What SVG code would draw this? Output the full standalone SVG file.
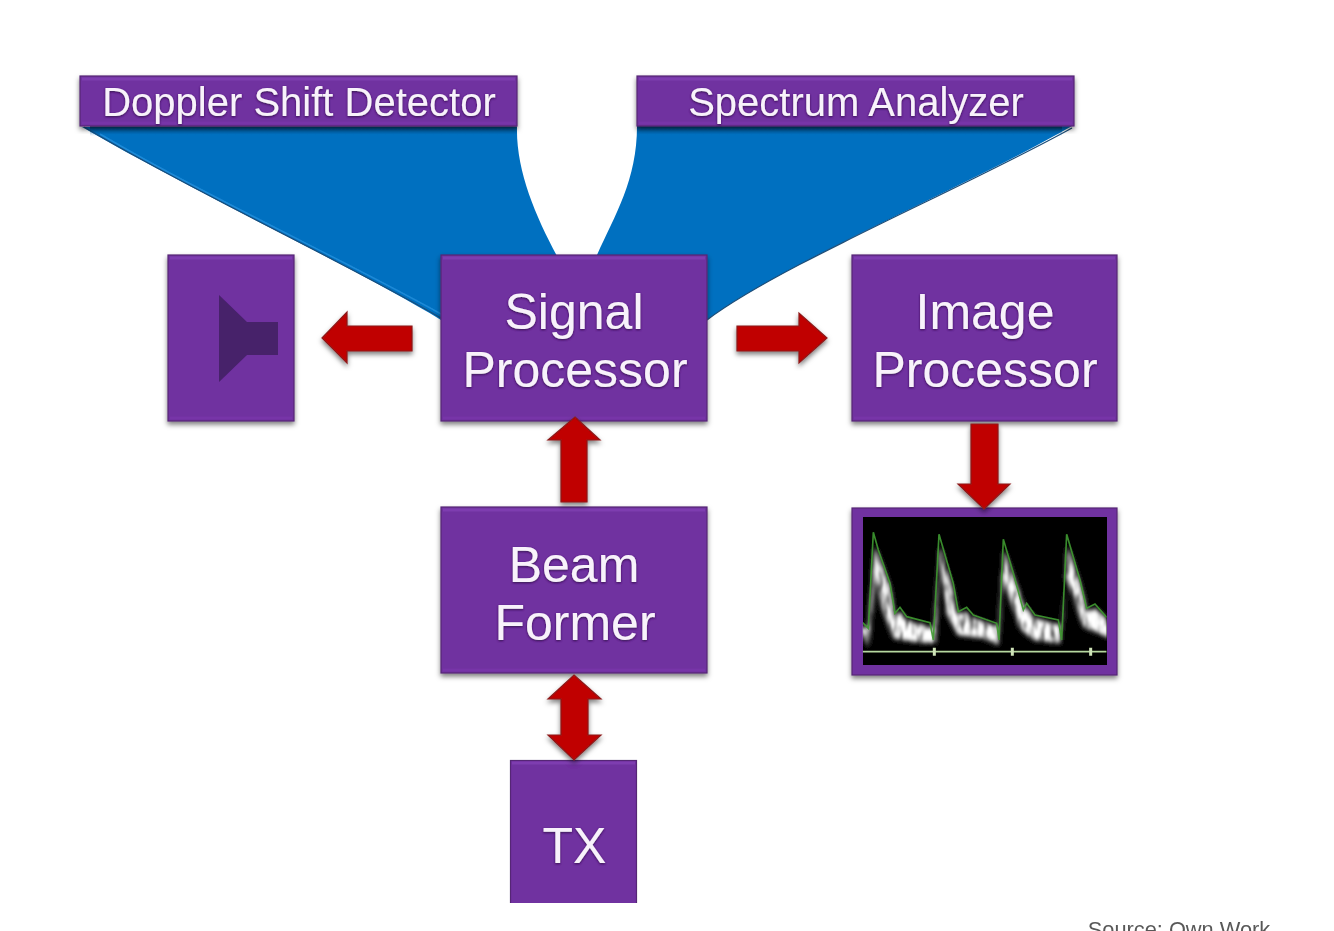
<svg xmlns="http://www.w3.org/2000/svg" width="1334" height="931" viewBox="0 0 1334 931">
<style>
.box{fill:#7030a0;stroke:#552874;stroke-width:1.2}
.hi{stroke:#8444b6;stroke-width:3;opacity:.7;fill:none}
.lo{stroke:#7c38ad;stroke-width:3;opacity:.6;fill:none}
.lbl{font-family:"Liberation Sans",Arial,sans-serif;fill:#f8f2fb;text-anchor:middle;font-size:50px}
.sm{font-size:40px}
.arr{fill:#c00000;stroke:#8c1a1a;stroke-width:1.2;stroke-linejoin:miter}
.fun{fill:#0070c0}
.edge{fill:none;stroke:#1c4d78;stroke-width:1.2}
</style>
<defs>
<filter id="soft" x="0" y="0" width="1334" height="931" filterUnits="userSpaceOnUse"><feGaussianBlur stdDeviation=".7"/></filter>
<filter id="sh" x="-10%" y="-10%" width="120%" height="125%"><feDropShadow dx="0" dy="3" stdDeviation="2.5" flood-color="#000" flood-opacity=".5"/></filter>
<filter id="ts" x="-5%" y="-10%" width="110%" height="130%"><feDropShadow dx="0" dy="1" stdDeviation="1" flood-color="#2c1040" flood-opacity=".85"/></filter>
<filter id="grain" x="-5%" y="-5%" width="110%" height="110%">
<feGaussianBlur in="SourceGraphic" stdDeviation="7" result="b"/>
<feTurbulence type="fractalNoise" baseFrequency=".07 .018" numOctaves="2" seed="7" result="n"/>
<feColorMatrix in="n" type="matrix" values="0 0 0 0 1  0 0 0 0 1  0 0 0 0 1  1.6 0 0 0 .1" result="m"/>
<feComposite in="b" in2="m" operator="in" result="c"/>
<feGaussianBlur in="c" stdDeviation="2.5"/>
</filter>
<filter id="bl2" x="0" y="0" width="800" height="500" filterUnits="userSpaceOnUse"><feGaussianBlur stdDeviation="1.6"/></filter>
<clipPath id="txc"><rect x="500" y="750" width="150" height="153"/></clipPath>
<clipPath id="wc"><rect x="38" y="50" width="732" height="443"/></clipPath>
<linearGradient id="ds" x1="0" y1="0" x2="0" y2="1"><stop offset="0" stop-color="#0a2f55" stop-opacity=".75"/><stop offset="1" stop-color="#0070c0" stop-opacity="0"/></linearGradient>
</defs>
<rect width="1334" height="931" fill="#fff"/>
<g filter="url(#soft)">
<text x="1179" y="937" font-family="'Liberation Sans',Arial,sans-serif" font-size="21.800" fill="#595959" text-anchor="middle">Source: Own Work</text>
<g id="funnels">
<path class="fun" d="M82 127H517C516 170 535 215 557 256L557 320H441C350 265 190 190 82 127Z"/>
<path d="M84 127C190 190 350 265 441 318" class="edge"/>
<path d="M100 134C200 193 340 258 441 314" fill="none" stroke="#2a94e0" stroke-width="1.600" opacity=".7"/>
<path class="fun" d="M637 126H1072C960 190 780 265 707 320L597 320V255C615 215 637 180 637 126Z"/>
<path d="M1072 128C960 190 780 265 707 320" class="edge"/>
<rect x="90" y="126" width="427" height="10" fill="url(#ds)"/>
<rect x="637" y="126" width="425" height="10" fill="url(#ds)"/>
</g>
<g id="nodes">
<g id="doppler" filter="url(#sh)"><rect class="box" x="80" y="76" width="437" height="50"/><path class="hi" d="M82 79H515"/><path class="lo" d="M82 123H515"/><text class="lbl sm" x="299" y="116" filter="url(#ts)">Doppler Shift Detector</text></g>
<g id="spectrum" filter="url(#sh)"><rect class="box" x="637" y="76" width="437" height="50"/><path class="hi" d="M639 79H1072"/><path class="lo" d="M639 123H1072"/><text class="lbl sm" x="856" y="116" filter="url(#ts)">Spectrum Analyzer</text></g>
<g id="speaker" filter="url(#sh)"><rect class="box" x="168" y="255" width="126" height="166"/><path class="hi" d="M170 258H292"/><path class="lo" d="M170 418H292"/><path d="M219 295L247 322H278V355H247L219 382Z" fill="#47206b"/></g>
<g id="signal" filter="url(#sh)"><rect class="box" x="441" y="255" width="266" height="166"/><path class="hi" d="M443 258H705"/><path class="lo" d="M443 418H705"/><text class="lbl" x="574" y="329" filter="url(#ts)">Signal</text><text class="lbl" x="575" y="387" filter="url(#ts)">Processor</text></g>
<g id="image" filter="url(#sh)"><rect class="box" x="852" y="255" width="265" height="166"/><path class="hi" d="M854 258H1115"/><path class="lo" d="M854 418H1115"/><text class="lbl" x="985" y="329" filter="url(#ts)">Image</text><text class="lbl" x="985" y="387" filter="url(#ts)">Processor</text></g>
<g id="beam" filter="url(#sh)"><rect class="box" x="441" y="507" width="266" height="166"/><path class="hi" d="M443 510H705"/><path class="lo" d="M443 670H705"/><text class="lbl" x="574" y="582" filter="url(#ts)">Beam</text><text class="lbl" x="575" y="640" filter="url(#ts)">Former</text></g>
<g id="tx" clip-path="url(#txc)"><rect class="box" x="510.500" y="760.500" width="126" height="150"/><path class="hi" d="M512 763H635"/><text class="lbl" x="574.500" y="863" filter="url(#ts)">TX</text></g>
<g id="monitor">
<rect class="box" x="852" y="508" width="265" height="167" filter="url(#sh)"/>
<rect x="863" y="517" width="244" height="148" fill="#000"/>
<g transform="translate(850 500) scale(.33333)" clip-path="url(#wc)">
<path filter="url(#grain)" fill="#fff" d="M30 385L55 440L78 225L95 320L130 415L190 425L245 430L258 425L268 170L290 340L322 405L400 415L445 435L460 240L510 385L550 420L630 430L648 230L700 380L780 415V365L735 325L712 335L690 250L652 140L640 360L625 375L555 355L525 320L490 230L462 150L445 380L370 355L345 335L325 345L305 260L270 140L250 385L170 360L150 335L135 350L120 260L75 140L55 375Z"/>
<path filter="url(#bl2)" fill="none" stroke="#3f9a30" stroke-width="5" opacity=".9" d="M38 368L55 385L70 97L85 150L120 250L135 340L150 322L170 350L240 368L250 420L267 103L310 250L325 335L350 322L370 345L440 370L447 420L460 118L490 220L520 330L530 310L555 345L625 360L635 420L650 103L690 240L710 325L735 312L770 352"/>
<path filter="url(#bl2)" fill="none" stroke="#b5d8a0" stroke-width="5" d="M38 455H770"/>
<path filter="url(#bl2)" fill="none" stroke="#cfe4b8" stroke-width="9" d="M253 443V467M487 443V467M722 443V467"/>
</g>
</g>
</g>
<g id="connectors">
<path class="arr" filter="url(#sh)" d="M322 338L347 312V326H412V351H347V363Z"/>
<path class="arr" filter="url(#sh)" d="M827 338L799 313V326H737V351H799V363Z"/>
<path class="arr" filter="url(#sh)" d="M575 417L600 440H587V502H561V440H548Z"/>
<path class="arr" filter="url(#sh)" d="M984 509L1010 484H998V424H971V484H958Z"/>
<path class="arr" filter="url(#sh)" d="M574 675L601 699H588V735H601L574 760L548 735H561V699H548Z"/>
</g>
</g>
</svg>
